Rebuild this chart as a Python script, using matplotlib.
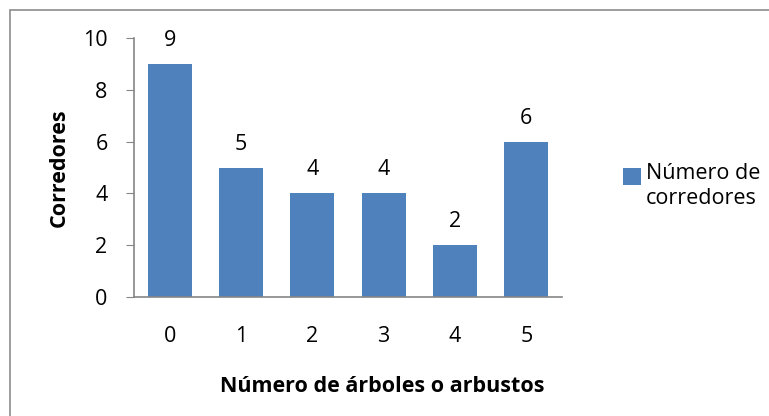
import matplotlib.pyplot as plt
import matplotlib.patches as patches

# Data
categories = ['0', '1', '2', '3', '4', '5']
corredores = [9, 5, 4, 4, 2, 6]
y_ticks = [0, 2, 4, 6, 8, 10]
series_name = 'Número de\ncorredores'

plt.rcParams['font.family'] = ['Open Sans', 'DejaVu Sans']
FS = 15.5

W, H = 769, 416
fig = plt.figure(figsize=(W / 100, H / 100), dpi=100)

# outer chart border
fig.patches.append(patches.Rectangle((10 / W, -0.05), 1.0, 1 - 10 / H + 0.05,
                                     transform=fig.transFigure, fill=False,
                                     edgecolor='#8c8c8c', linewidth=1.2))

ax = fig.add_axes([134 / W, 1 - 297 / H, (562 - 134) / W, (297 - 38) / H])
x = range(len(categories))
bars = ax.bar(x, corredores, width=0.62, color='#4F81BD')

for xi, v in zip(x, corredores):
    ax.text(xi, v + 0.5, str(v), ha='center', va='bottom', fontsize=FS)

ax.set_xlim(-0.5, len(categories) - 0.5)
ax.set_ylim(0, 10)
ax.set_yticks(y_ticks)
ax.set_xticks(list(x))
ax.set_xticklabels(categories)

for s in ['top', 'right']:
    ax.spines[s].set_visible(False)
for s in ['left', 'bottom']:
    ax.spines[s].set_color('#868686')
    ax.spines[s].set_linewidth(1.2)

ax.tick_params(axis='y', length=6, color='#868686', labelsize=FS, pad=13)
ax.tick_params(axis='x', length=0, labelsize=FS, pad=21)

# Excel puts the axis titles a bit off-centre
ax.set_xlabel('Número de árboles o arbustos', fontsize=FS, fontweight='bold')
ax.xaxis.set_label_coords(0.58, -0.305)
ax.set_ylabel('Corredores', fontsize=FS, fontweight='bold')
ax.yaxis.set_label_coords(-0.15, 0.5)

# legend: square next to the first line of the series name
fig.patches.append(patches.Rectangle((623 / W, 1 - 185 / H), 18 / W, 17 / H,
                                     transform=fig.transFigure,
                                     facecolor=bars.patches[0].get_facecolor(),
                                     edgecolor='none'))
fig.text(646 / W, 1 - 163 / H, series_name, ha='left', va='top', fontsize=FS,
         linespacing=1.25)

fig.savefig('out.png', dpi=100)
